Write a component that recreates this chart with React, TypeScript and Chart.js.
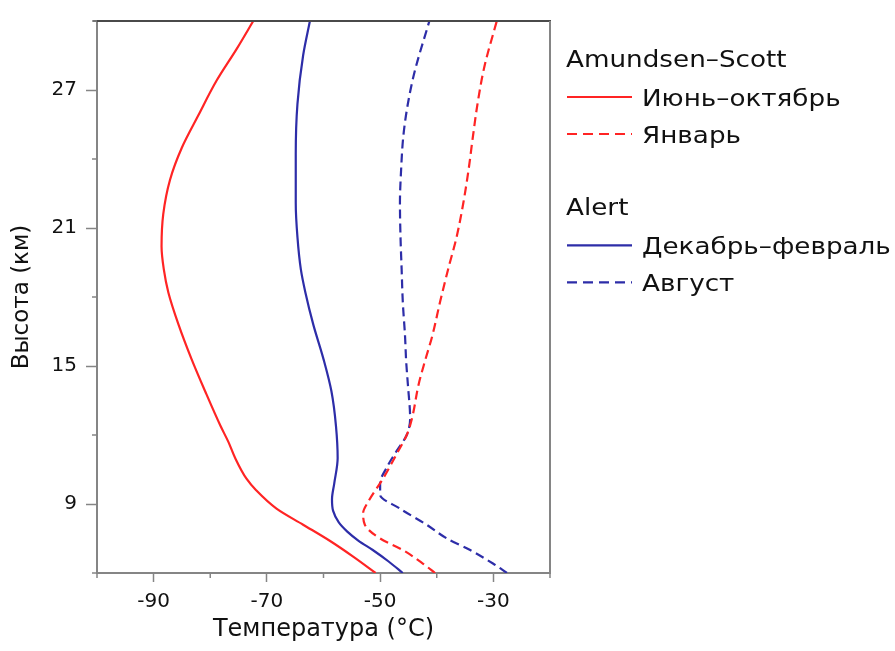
import React, { useEffect, useRef } from "react";
import { Chart, registerables } from "chart.js";

Chart.register(...registerables);

// Amundsen–Scott, June–October (altitude km, temperature °C)
const junOctAlt = [6.0, 6.7, 7.4, 8.1, 8.8, 9.6, 10.1, 11.0, 11.7, 12.4, 13.9, 15.3, 16.8, 18.2, 19.2, 20.2, 21.6, 23.1, 24.5, 25.9, 27.4, 28.8, 30.0];
const junOctTemp = [-50.8, -54.7, -58.9, -63.6, -68.3, -71.9, -73.6, -75.6, -76.8, -78.2, -80.9, -83.3, -85.6, -87.4, -88.2, -88.6, -88.3, -87.1, -85.0, -82.1, -78.9, -75.3, -72.4];

// Amundsen–Scott, January
const janAlt = [6.0, 6.4, 7.0, 7.5, 8.1, 8.6, 9.1, 10.1, 11.3, 12.0, 12.7, 14.2, 15.2, 16.3, 17.8, 19.2, 20.6, 22.1, 23.5, 25.0, 26.4, 28.0, 30.0];
const janTemp = [-40.3, -42.4, -46.0, -50.0, -52.7, -53.0, -52.1, -49.5, -46.8, -45.3, -44.4, -43.2, -42.1, -40.8, -39.4, -38.0, -36.5, -35.3, -34.4, -33.6, -32.8, -31.6, -29.4];

// Alert, December–February
const decFebAlt = [6.0, 6.5, 7.0, 7.4, 7.8, 8.2, 8.7, 9.2, 9.9, 11.0, 12.4, 13.9, 15.3, 16.8, 18.2, 19.2, 20.6, 22.1, 24.2, 26.4, 28.5, 30.0];
const decFebTemp = [-46.0, -48.5, -51.3, -53.8, -55.8, -57.3, -58.3, -58.5, -58.1, -57.5, -57.8, -58.6, -60.0, -61.8, -63.2, -64.0, -64.6, -64.9, -64.9, -64.6, -63.6, -62.4];

// Alert, August
const augAlt = [6.0, 6.4, 7.0, 7.5, 8.1, 8.8, 9.4, 9.9, 10.6, 11.3, 12.0, 12.7, 14.2, 15.2, 16.3, 17.8, 19.2, 20.6, 22.1, 23.5, 25.0, 26.4, 27.8, 30.0];
const augTemp = [-27.6, -30.0, -34.1, -38.2, -41.8, -46.5, -50.0, -50.0, -48.8, -47.1, -45.3, -44.7, -45.1, -45.4, -45.6, -46.0, -46.2, -46.4, -46.5, -46.3, -45.9, -45.1, -43.9, -41.3];

const seriesLabels = ["Июнь–октябрь", "Январь", "Декабрь–февраль", "Август"];
const groupTitles = ["Amundsen–Scott", "Alert"];

const xMin = -100;
const xMax = -20;
const xStep = 10;
const xLabeledTicks = [-90, -70, -50, -30];

const yMin = 6;
const yMax = 30;
const yStep = 3;
const yLabeledTicks = [9, 15, 21, 27];

const RED = "#ff2424";
const BLUE = "#2d2da8";
const FONT = "'DejaVu Sans', sans-serif";
const TEXT = "#111111";
const AXIS = "#858585";

const toPoints = (alt: number[], temp: number[]) =>
  alt.map((a, i) => ({ x: temp[i], y: a }));

const decorPlugin = {
  id: "decor",
  afterDraw(chart: any) {
    const { ctx, chartArea: a, scales } = chart;
    ctx.save();
    // frame: top and right
    ctx.lineWidth = 2;
    ctx.strokeStyle = "#4a4a4a";
    ctx.beginPath();
    ctx.moveTo(a.left - 4, a.top);
    ctx.lineTo(a.right + 1, a.top);
    ctx.stroke();
    ctx.strokeStyle = AXIS;
    ctx.beginPath();
    ctx.moveTo(a.right, a.top);
    ctx.lineTo(a.right, a.bottom);
    ctx.stroke();
    // minor ticks
    ctx.lineWidth = 1.5;
    ctx.strokeStyle = AXIS;
    const xs = scales.x;
    for (const t of xs.ticks) {
      if (xLabeledTicks.includes(t.value)) continue;
      const px = xs.getPixelForValue(t.value);
      ctx.beginPath();
      ctx.moveTo(px, a.bottom);
      ctx.lineTo(px, a.bottom + 5);
      ctx.stroke();
    }
    const ys = scales.y;
    for (const t of ys.ticks) {
      if (yLabeledTicks.includes(t.value)) continue;
      const py = ys.getPixelForValue(t.value);
      ctx.beginPath();
      ctx.moveTo(a.left - 5, py);
      ctx.lineTo(a.left, py);
      ctx.stroke();
    }

    // legend
    const ds = chart.data.datasets;
    const hx = 566;
    const lineX0 = 567;
    const lineX1 = 632;
    const textX = 642;
    const stretch = 1.14;
    const drawText = (s: string, x: number, y: number) => {
      ctx.save();
      ctx.translate(x, y);
      ctx.scale(stretch, 1);
      ctx.fillText(s, 0, 0);
      ctx.restore();
    };
    ctx.font = `23px ${FONT}`;
    ctx.fillStyle = TEXT;
    ctx.textBaseline = "alphabetic";
    ctx.textAlign = "left";
    const groups = [
      { title: groupTitles[0], base: 66.7, items: [0, 1] },
      { title: groupTitles[1], base: 215, items: [2, 3] },
    ];
    const rowOffsets = [38.8, 75.8];
    groups.forEach((g) => {
      drawText(g.title, hx, g.base);
      g.items.forEach((idx, k) => {
        const d = ds[idx];
        const b = g.base + rowOffsets[k];
        const ly = b - 8.5;
        ctx.save();
        ctx.strokeStyle = d.borderColor;
        ctx.lineWidth = 2.2;
        ctx.setLineDash(d.borderDash && d.borderDash.length ? [10, 6] : []);
        ctx.beginPath();
        ctx.moveTo(lineX0, ly);
        ctx.lineTo(lineX1, ly);
        ctx.stroke();
        ctx.restore();
        drawText(d.label, textX, b);
      });
    });
    ctx.restore();
  },
};

export default function App() {
  const ref = useRef<HTMLCanvasElement | null>(null);

  useEffect(() => {
    if (!ref.current) return;
    const chart = new Chart(ref.current, {
      type: "line",
      data: {
        datasets: [
          {
            label: seriesLabels[0],
            data: toPoints(junOctAlt, junOctTemp),
            borderColor: RED,
            borderDash: [],
          },
          {
            label: seriesLabels[1],
            data: toPoints(janAlt, janTemp),
            borderColor: RED,
            borderDash: [9, 5],
          },
          {
            label: seriesLabels[2],
            data: toPoints(decFebAlt, decFebTemp),
            borderColor: BLUE,
            borderDash: [],
          },
          {
            label: seriesLabels[3],
            data: toPoints(augAlt, augTemp),
            borderColor: BLUE,
            borderDash: [9, 5],
          },
        ].map((d) => ({
          ...d,
          borderWidth: 2.2,
          fill: false,
          cubicInterpolationMode: "monotone",
          pointRadius: 0,
          pointHoverRadius: 0,
          backgroundColor: d.borderColor,
        })) as any,
      },
      options: {
        indexAxis: "y",
        animation: false,
        responsive: true,
        maintainAspectRatio: false,
        events: [],
        layout: { padding: { top: 16, right: 345, left: 0, bottom: 0 } },
        plugins: {
          legend: { display: false },
          tooltip: { enabled: false },
        },
        scales: {
          x: {
            type: "linear",
            position: "bottom",
            min: xMin,
            max: xMax,
            afterFit: (s: any) => {
              s.height = 78;
            },
            ticks: {
              stepSize: xStep,
              padding: 8,
              color: TEXT,
              font: { family: FONT, size: 20 },
              maxRotation: 0,
              autoSkip: false,
              callback: (v: any) => (xLabeledTicks.includes(Number(v)) ? String(v) : ""),
            },
            grid: {
              drawOnChartArea: false,
              tickLength: 9,
              tickWidth: 1.5,
              tickColor: (c: any) =>
                c.tick && xLabeledTicks.includes(c.tick.value) ? AXIS : "rgba(0,0,0,0)",
            },
            border: { display: true, color: AXIS, width: 2 },
            title: {
              display: true,
              text: "Температура (°C)",
              color: TEXT,
              font: { family: FONT, size: 24 },
              padding: { top: 0, bottom: 7 },
            },
          },
          y: {
            type: "linear",
            position: "left",
            min: yMin,
            max: yMax,
            afterFit: (s: any) => {
              s.width = 97;
            },
            ticks: {
              stepSize: yStep,
              padding: 9,
              color: TEXT,
              font: { family: FONT, size: 20 },
              autoSkip: false,
              callback: (v: any) => (yLabeledTicks.includes(Number(v)) ? String(v) : ""),
            },
            grid: {
              drawOnChartArea: false,
              tickLength: 11,
              tickWidth: 1.5,
              tickColor: (c: any) =>
                c.tick && yLabeledTicks.includes(c.tick.value) ? AXIS : "rgba(0,0,0,0)",
            },
            border: { display: true, color: AXIS, width: 2 },
            title: {
              display: true,
              text: "Высота (км)",
              color: TEXT,
              font: { family: FONT, size: 23 },
              padding: { top: 8, bottom: 0 },
            },
          },
        },
      },
      plugins: [decorPlugin],
    });
    return () => chart.destroy();
  }, []);

  return (
    <div style={{ position: "absolute", left: 0, top: 0, width: 895, height: 651, background: "#fff" }}>
      <canvas ref={ref} />
    </div>
  );
}
